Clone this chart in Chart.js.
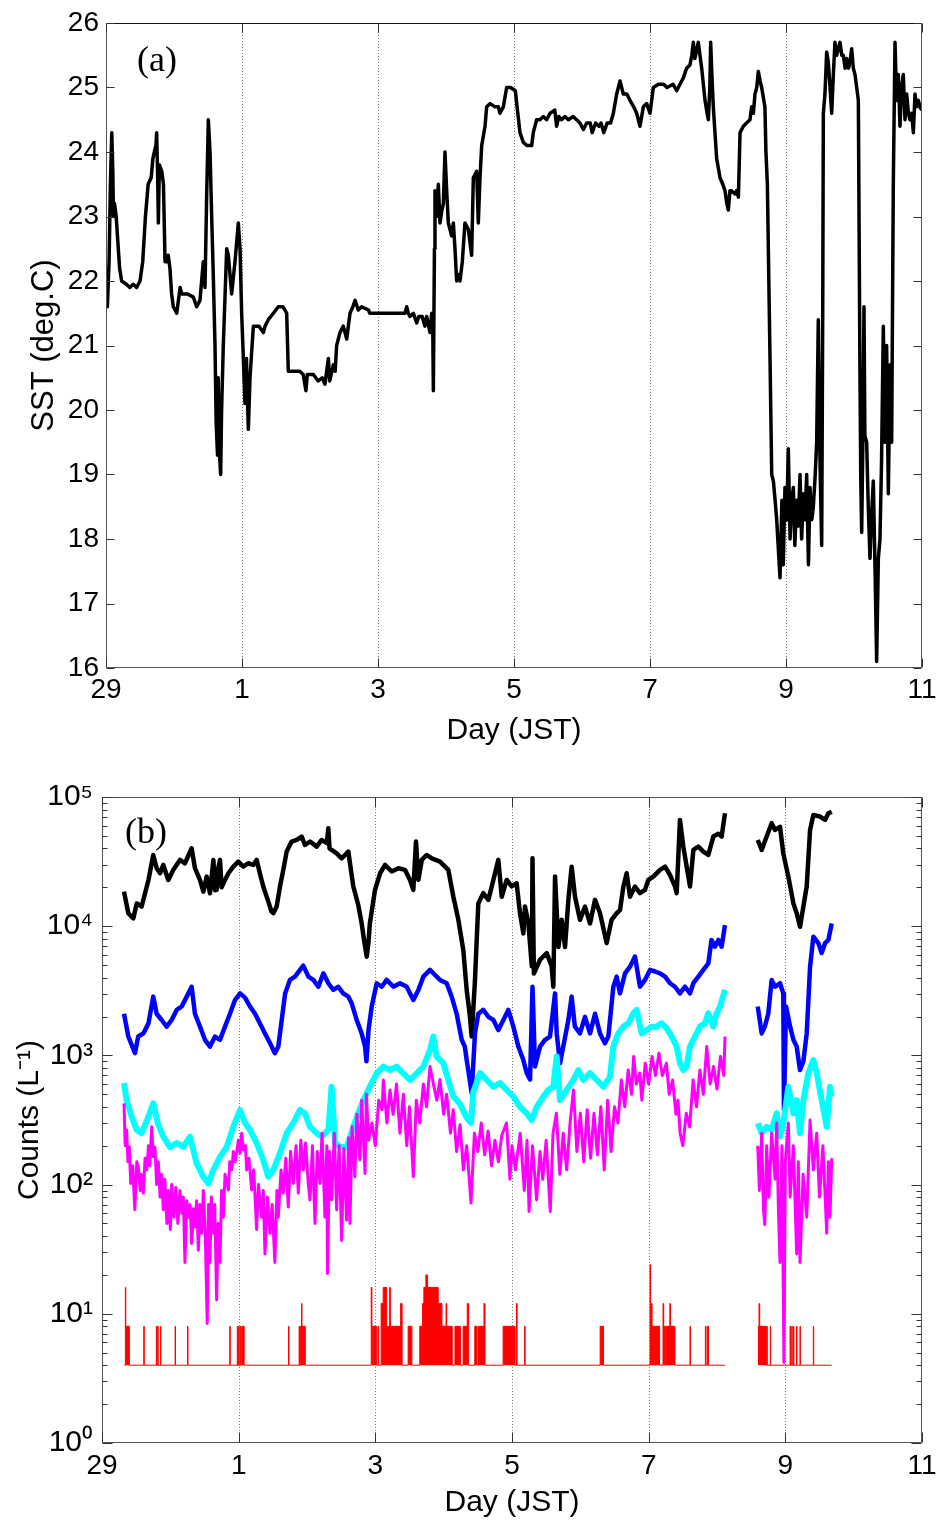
<!DOCTYPE html>
<html><head><meta charset="utf-8">
<script src="https://cdn.jsdelivr.net/npm/chart.js@4.4.0/dist/chart.umd.min.js"></script>
<style>
html,body{margin:0;padding:0;background:#fff;}
#wrap{position:relative;width:938px;height:1521px;overflow:hidden;}
#c1{position:absolute;left:0;top:0;}
#c2{position:absolute;left:0;top:760px;}
</style></head><body>
<div id="wrap">
<canvas id="c1" width="938" height="760"></canvas>
<canvas id="c2" width="938" height="761"></canvas>
</div>
<script>
// ---------- axis ticks ----------
const dayTickValues = [0, 2, 4, 6, 8, 10, 12];
const dayTickLabels = ['29', '1', '3', '5', '7', '9', '11'];
const sstTickValues = [16, 17, 18, 19, 20, 21, 22, 23, 24, 25, 26];
const sstTickLabels = ['16', '17', '18', '19', '20', '21', '22', '23', '24', '25', '26'];
const countTickValues = [1, 10, 100, 1000, 10000, 100000];
const countTickLabels = ['10\u2070', '10\u00B9', '10\u00B2', '10\u00B3', '10\u2074', '10\u2075'];

// ---------- (a) SST, deg.C  [day since 29th 00:00, value] ----------
const sst = [
[0.000,21.9],[0.020,21.6],[0.045,22.3],[0.065,23.5],[0.085,24.3],[0.100,23.7],[0.110,23.0],[0.125,23.2],
[0.150,23.0],[0.175,22.6],[0.200,22.2],[0.230,22.0],[0.300,21.95],[0.350,21.9],[0.400,21.95],[0.450,21.9],
[0.500,22.0],[0.540,22.3],[0.580,23.0],[0.620,23.5],[0.664,23.6],[0.690,23.9],[0.711,24.0],[0.735,24.1],
[0.745,24.3],[0.760,23.6],[0.770,22.9],[0.785,23.8],[0.820,23.7],[0.845,23.5],[0.868,22.3],[0.892,22.3],
[0.915,22.4],[0.940,22.2],[0.965,21.8],[0.990,21.6],[1.040,21.5],[1.090,21.9],[1.113,21.8],[1.200,21.8],
[1.284,21.75],[1.333,21.6],[1.382,21.7],[1.431,22.3],[1.456,21.9],[1.480,23.3],[1.505,24.5],[1.530,24.0],
[1.554,23.0],[1.580,22.0],[1.603,21.0],[1.620,19.8],[1.640,19.3],[1.650,20.5],[1.665,19.4],[1.686,19.0],
[1.700,20.0],[1.725,21.0],[1.775,22.5],[1.799,22.4],[1.848,21.8],[1.897,22.3],[1.946,22.9],[1.971,22.5],
[1.995,21.5],[2.020,20.8],[2.044,20.1],[2.065,20.8],[2.093,19.7],[2.118,20.5],[2.167,21.3],[2.250,21.3],
[2.314,21.2],[2.340,21.3],[2.387,21.4],[2.461,21.5],[2.534,21.6],[2.600,21.6],[2.632,21.55],[2.657,21.5],
[2.681,20.6],[2.750,20.6],[2.850,20.6],[2.900,20.55],[2.940,20.3],[2.960,20.55],[3.050,20.55],[3.120,20.45],
[3.180,20.5],[3.220,20.4],[3.270,20.8],[3.290,20.45],[3.343,20.7],[3.370,20.6],[3.392,21.0],[3.440,21.2],
[3.490,21.3],[3.540,21.1],[3.588,21.5],[3.630,21.6],[3.663,21.7],[3.710,21.55],[3.760,21.6],[3.860,21.55],
[3.880,21.5],[4.100,21.5],[4.397,21.5],[4.422,21.6],[4.445,21.5],[4.470,21.45],[4.520,21.5],[4.569,21.35],
[4.600,21.45],[4.650,21.45],[4.690,21.3],[4.716,21.45],[4.765,21.2],[4.790,21.5],[4.805,21.3],[4.814,20.3],
[4.830,22.5],[4.838,23.4],[4.863,23.0],[4.887,23.5],[4.912,22.9],[4.940,23.1],[4.961,23.2],[4.985,24.0],
[5.010,23.4],[5.034,22.9],[5.083,22.7],[5.108,22.9],[5.132,22.5],[5.157,22.0],[5.190,22.1],[5.206,22.0],
[5.240,22.3],[5.279,22.9],[5.328,22.8],[5.377,22.4],[5.402,23.6],[5.451,23.7],[5.475,22.9],[5.500,23.6],
[5.525,24.1],[5.574,24.4],[5.598,24.7],[5.650,24.75],[5.720,24.7],[5.770,24.7],[5.794,24.6],[5.843,24.7],
[5.892,25.0],[5.950,25.0],[6.020,24.95],[6.040,24.75],[6.088,24.3],[6.137,24.15],[6.190,24.1],[6.260,24.1],
[6.284,24.3],[6.333,24.5],[6.380,24.5],[6.431,24.55],[6.480,24.5],[6.530,24.6],[6.600,24.65],[6.627,24.4],
[6.660,24.55],[6.700,24.5],[6.750,24.55],[6.800,24.5],[6.870,24.55],[6.920,24.5],[6.970,24.45],[7.020,24.35],
[7.070,24.45],[7.120,24.45],[7.150,24.3],[7.200,24.45],[7.250,24.4],[7.280,24.45],[7.320,24.3],[7.370,24.45],
[7.420,24.45],[7.461,24.6],[7.510,24.9],[7.559,25.1],[7.608,24.9],[7.660,24.9],[7.706,24.8],[7.760,24.7],
[7.804,24.6],[7.853,24.4],[7.902,24.7],[7.951,24.75],[8.000,24.6],[8.049,25.0],[8.123,25.05],[8.200,25.05],
[8.250,25.0],[8.340,25.05],[8.392,24.95],[8.441,25.05],[8.490,25.15],[8.539,25.3],[8.588,25.35],[8.615,25.5],
[8.637,25.7],[8.660,25.45],[8.690,25.6],[8.710,25.7],[8.735,25.5],[8.760,25.3],[8.809,24.8],[8.840,24.6],
[8.858,24.5],[8.880,25.0],[8.892,25.7],[8.910,25.2],[8.931,24.7],[8.980,23.9],[9.030,23.6],[9.070,23.5],
[9.103,23.4],[9.130,23.2],[9.152,23.1],[9.175,23.4],[9.200,23.4],[9.250,23.35],[9.275,23.4],[9.300,23.3],
[9.324,24.3],[9.373,24.4],[9.420,24.45],[9.470,24.5],[9.495,24.7],[9.520,24.6],[9.544,24.9],[9.570,25.0],
[9.593,25.25],[9.620,25.1],[9.642,25.0],[9.690,24.7],[9.705,24.0],[9.726,23.5],[9.765,20.8],[9.790,19.0],
[9.814,18.9],[9.840,18.6],[9.863,18.3],[9.890,17.8],[9.912,17.4],[9.940,18.6],[9.960,17.6],[9.985,18.8],
[10.010,18.3],[10.034,19.4],[10.060,18.0],[10.085,18.6],[10.108,18.8],[10.130,17.9],[10.157,18.6],[10.180,18.2],
[10.206,19.0],[10.230,18.0],[10.255,18.7],[10.280,18.3],[10.304,19.0],[10.330,17.6],[10.353,18.8],[10.380,18.3],
[10.402,18.5],[10.430,19.0],[10.451,19.5],[10.475,21.4],[10.500,19.2],[10.525,17.9],[10.540,21.5],[10.549,24.6],
[10.573,24.9],[10.598,25.55],[10.622,25.4],[10.647,25.0],[10.672,24.6],[10.696,25.2],[10.720,25.7],[10.745,25.5],
[10.770,25.6],[10.794,25.7],[10.820,25.5],[10.843,25.5],[10.870,25.3],[10.892,25.45],[10.920,25.3],[10.941,25.4],
[10.966,25.6],[10.990,25.3],[11.015,25.2],[11.040,25.0],[11.064,24.8],[11.088,20.5],[11.100,18.9],[11.113,18.1],
[11.130,19.5],[11.147,21.6],[11.160,19.6],[11.186,19.5],[11.210,18.5],[11.235,17.7],[11.260,18.4],[11.284,18.9],
[11.310,17.5],[11.333,16.1],[11.358,17.7],[11.382,18.0],[11.405,19.2],[11.431,21.3],[11.455,19.5],[11.480,21.0],
[11.505,18.7],[11.530,20.7],[11.554,19.5],[11.578,23.5],[11.603,25.7],[11.627,24.8],[11.652,25.2],[11.676,24.4],
[11.700,25.0],[11.725,25.2],[11.750,24.5],[11.775,24.9],[11.800,24.6],[11.824,24.5],[11.848,24.6],[11.873,24.3],
[11.897,24.9],[11.920,24.7],[11.946,24.8],[11.970,24.7],[11.995,24.65]
];

// ---------- (b) counts, L^-1  [day, value]; null = no data ----------
const countsBlack = [
[0.322,18500],[0.385,12600],[0.459,11500],[0.508,15000],[0.580,14200],[0.630,18000],[0.680,22800],[0.750,35600],
[0.800,28100],[0.850,25700],[0.897,29800],[0.970,22800],[1.044,27300],[1.141,32600],[1.214,30700],[1.312,40100],
[1.360,28100],[1.434,22800],[1.483,18500],[1.532,24200],[1.580,18000],[1.630,32600],[1.654,19000],[1.678,19100],
[1.700,28000],[1.727,32600],[1.750,20000],[1.776,21500],[1.850,25700],[1.922,28900],[1.995,31600],[2.068,28900],
[2.140,30700],[2.215,29800],[2.263,32600],[2.310,25700],[2.360,20300],[2.434,15500],[2.480,13000],[2.507,12600],
[2.556,14200],[2.605,20300],[2.653,27300],[2.702,37800],[2.775,45200],[2.850,46500],[2.922,49400],[2.970,42500],
[3.044,45200],[3.142,41300],[3.215,46500],[3.290,44000],[3.312,57300],[3.330,40000],[3.360,38900],[3.434,36600],
[3.507,33500],[3.605,37800],[3.629,30700],[3.678,20300],[3.750,14600],[3.800,10500],[3.835,7800],[3.874,5800],
[3.900,7500],[3.920,10500],[3.995,19100],[4.070,25700],[4.142,29800],[4.240,26500],[4.337,28100],[4.434,27300],
[4.507,22800],[4.556,19100],[4.595,45200],[4.630,22800],[4.680,32600],[4.750,35600],[4.825,33500],[4.946,31600],
[5.068,27300],[5.142,16900],[5.215,11200],[5.288,6500],[5.337,3200],[5.380,2100],[5.410,1400],[5.458,3800],
[5.507,15000],[5.580,18000],[5.654,16000],[5.727,22800],[5.800,32600],[5.850,16900],[5.922,22800],[5.995,20300],
[6.068,21500],[6.117,12600],[6.166,8800],[6.190,14200],[6.240,10500],[6.290,4900],[6.300,33500],[6.320,4300],
[6.410,5500],[6.508,6200],[6.580,4900],[6.605,3400],[6.630,24200],[6.680,6900],[6.727,11200],[6.776,6900],
[6.825,16000],[6.873,28900],[6.922,16900],[6.995,11200],[7.068,14200],[7.142,10500],[7.215,16000],[7.288,12600],
[7.385,7400],[7.458,11200],[7.532,12600],[7.580,13300],[7.630,20300],[7.678,25700],[7.727,16900],[7.800,20300],
[7.873,18000],[7.946,19100],[7.995,22800],[8.068,24200],[8.166,27300],[8.240,28900],[8.312,24900],[8.385,20300],
[8.410,18000],[8.458,66500],[8.507,41300],[8.556,28900],[8.605,20300],[8.654,38900],[8.727,41300],[8.800,37800],
[8.873,35600],[8.946,49400],[9.020,51900],[9.068,49400],[9.117,74800],[9.350,null],
[9.596,46500],[9.654,38900],[9.727,49400],[9.800,62700],[9.850,55600],[9.922,58800],[9.970,36600],[10.044,24200],
[10.118,15000],[10.166,12600],[10.215,9900],[10.264,14200],[10.313,20300],[10.362,55600],[10.410,72600],[10.508,70600],
[10.582,66500],[10.630,74800],[10.679,77000]
];
const countsBlue = [
[0.322,2100],[0.385,1400],[0.483,1040],[0.530,1400],[0.605,1480],[0.680,1770],[0.750,2850],[0.800,2100],
[0.873,1880],[0.946,1670],[1.020,1880],[1.093,2250],[1.166,2390],[1.240,2850],[1.312,3400],[1.360,2100],
[1.434,1670],[1.507,1320],[1.580,1170],[1.654,1400],[1.727,1320],[1.800,1670],[1.873,2100],[1.946,2680],
[2.020,3020],[2.093,2800],[2.166,2390],[2.240,2100],[2.310,1770],[2.385,1480],[2.460,1240],[2.530,1040],
[2.580,1170],[2.630,1880],[2.680,3020],[2.750,3840],[2.824,4070],[2.898,4590],[2.946,4950],[3.020,4070],
[3.093,3840],[3.166,3400],[3.240,4320],[3.312,3620],[3.385,3210],[3.458,3400],[3.530,3020],[3.605,2850],
[3.654,2530],[3.727,1880],[3.800,1480],[3.850,1170],[3.870,900],[3.900,1570],[3.947,2390],[4.020,3620],
[4.093,3400],[4.166,3840],[4.264,3400],[4.361,3620],[4.459,3400],[4.556,2680],[4.630,3210],[4.703,4070],
[4.800,4590],[4.849,4320],[4.946,3840],[5.044,3620],[5.117,2850],[5.190,2100],[5.264,1320],[5.310,1170],
[5.337,920],[5.360,770],[5.410,510],[5.458,1480],[5.507,2100],[5.580,2250],[5.654,1990],[5.727,1880],
[5.800,1570],[5.874,1880],[5.946,2250],[6.020,1670],[6.093,1170],[6.166,920],[6.215,730],[6.264,650],
[6.300,3400],[6.337,820],[6.410,1170],[6.483,1320],[6.556,1400],[6.630,3020],[6.654,1480],[6.703,870],
[6.750,1170],[6.825,1880],[6.873,2850],[6.920,1670],[6.995,1480],[7.068,1990],[7.142,1480],[7.215,2100],
[7.288,1480],[7.360,1240],[7.410,1400],[7.483,3400],[7.532,4070],[7.580,3020],[7.654,4320],[7.727,4860],
[7.800,5820],[7.873,3400],[7.946,3840],[8.020,4590],[8.093,4460],[8.166,4320],[8.240,4070],[8.312,3620],
[8.385,3400],[8.458,3020],[8.532,3400],[8.605,3020],[8.654,3620],[8.727,4070],[8.800,4590],[8.873,5150],
[8.920,7830],[8.970,6940],[9.020,7830],[9.068,6940],[9.117,10200],[9.350,null],
[9.596,2390],[9.654,1480],[9.700,1670],[9.750,2100],[9.800,3840],[9.850,3400],[9.922,3620],[9.970,3020],
[9.980,380],[10.010,2390],[10.070,1670],[10.118,1320],[10.166,1170],[10.215,770],[10.264,900],[10.313,1480],
[10.362,4860],[10.410,8300],[10.483,7400],[10.532,6200],[10.582,7400],[10.630,7830],[10.679,10500]
];
const countsCyan = [
[0.322,610],[0.360,450],[0.434,336],[0.508,265],[0.580,250],[0.680,336],[0.750,425],[0.820,295],
[0.897,235],[0.995,195],[1.093,210],[1.190,196],[1.288,235],[1.385,146],[1.483,115],[1.556,102],
[1.630,130],[1.727,164],[1.824,195],[1.922,280],[2.020,378],[2.093,300],[2.166,265],[2.263,210],
[2.360,155],[2.434,115],[2.507,130],[2.605,175],[2.702,250],[2.800,300],[2.898,378],[2.970,356],
[3.044,280],[3.142,250],[3.215,235],[3.312,265],[3.360,573],[3.410,210],[3.483,196],[3.580,195],
[3.678,280],[3.750,356],[3.825,450],[3.920,573],[4.020,726],[4.117,818],[4.215,771],[4.312,818],
[4.410,726],[4.507,645],[4.605,726],[4.703,818],[4.800,1100],[4.849,1400],[4.897,980],[4.995,870],
[5.068,645],[5.142,480],[5.240,420],[5.337,330],[5.400,300],[5.434,520],[5.532,730],[5.630,645],
[5.727,573],[5.825,610],[5.922,540],[6.020,480],[6.117,400],[6.215,356],[6.288,316],[6.361,400],
[6.459,480],[6.532,540],[6.605,573],[6.654,980],[6.703,450],[6.800,540],[6.898,645],[6.971,770],
[7.044,645],[7.142,730],[7.240,645],[7.337,573],[7.434,685],[7.483,1170],[7.556,1480],[7.630,1670],
[7.703,1770],[7.776,2120],[7.825,2250],[7.897,1480],[7.971,1570],[8.044,1670],[8.117,1670],[8.190,1770],
[8.264,1620],[8.337,1400],[8.410,1170],[8.458,870],[8.507,770],[8.556,820],[8.605,1170],[8.678,1400],
[8.751,1670],[8.825,1770],[8.873,2120],[8.946,1670],[8.995,2120],[9.044,2390],[9.117,3210],[9.350,null],
[9.596,298],[9.654,250],[9.727,280],[9.800,265],[9.874,356],[9.922,235],[9.971,298],[10.044,573],
[10.118,356],[10.166,450],[10.215,250],[10.264,450],[10.337,730],[10.410,920],[10.459,730],[10.532,450],
[10.606,280],[10.654,573],[10.679,480]
];
const countsMagenta = [
[0.322,425],[0.340,200],[0.360,265],[0.380,150],[0.400,196],[0.420,102],[0.450,140],[0.480,64],
[0.510,150],[0.530,138],[0.560,90],[0.580,120],[0.605,86],[0.630,160],[0.654,130],[0.680,200],
[0.700,140],[0.727,280],[0.750,164],[0.775,195],[0.800,100],[0.824,150],[0.850,80],[0.873,120],
[0.897,64],[0.920,110],[0.950,50],[0.970,90],[1.000,45],[1.020,100],[1.050,56],[1.080,95],
[1.110,50],[1.141,90],[1.170,60],[1.190,80],[1.214,25],[1.240,75],[1.263,56],[1.290,70],
[1.312,35],[1.340,65],[1.360,47],[1.385,75],[1.410,31],[1.434,70],[1.460,42],[1.483,90],
[1.510,45],[1.540,8.4],[1.560,70],[1.580,25],[1.600,80],[1.630,42],[1.650,70],[1.678,12.8],
[1.700,50],[1.727,25],[1.750,90],[1.776,56],[1.800,120],[1.850,91],[1.870,150],[1.900,130],
[1.922,180],[1.950,150],[1.995,220],[2.020,175],[2.044,250],[2.070,185],[2.100,200],[2.117,130],
[2.150,160],[2.190,91],[2.220,130],[2.263,45],[2.290,100],[2.336,56],[2.360,90],[2.385,29],
[2.420,80],[2.458,42],[2.490,70],[2.530,25],[2.560,90],[2.580,56],[2.620,130],[2.653,86],
[2.690,160],[2.726,67],[2.760,180],[2.800,102],[2.840,200],[2.873,86],[2.910,220],[2.946,130],
[2.980,210],[3.020,100],[3.044,76],[3.080,200],[3.117,50],[3.150,180],[3.190,102],[3.220,250],
[3.263,56],[3.290,200],[3.300,20.5],[3.330,180],[3.360,76],[3.400,250],[3.434,64],[3.470,200],
[3.507,37],[3.540,190],[3.580,53],[3.610,230],[3.629,50],[3.660,280],[3.700,115],[3.730,350],
[3.775,155],[3.800,450],[3.850,122],[3.870,500],[3.900,220],[3.950,300],[4.000,200],[4.050,450],
[4.100,380],[4.117,645],[4.170,300],[4.215,540],[4.260,350],[4.310,600],[4.360,250],[4.410,500],
[4.460,200],[4.500,400],[4.556,115],[4.600,450],[4.650,300],[4.703,600],[4.750,400],[4.800,820],
[4.850,600],[4.900,450],[4.946,650],[5.000,350],[5.044,500],[5.100,250],[5.140,380],[5.190,180],
[5.240,290],[5.288,130],[5.337,200],[5.360,140],[5.400,72],[5.450,250],[5.500,180],[5.550,300],
[5.600,170],[5.650,260],[5.700,140],[5.750,220],[5.800,150],[5.850,240],[5.920,300],[5.970,110],
[6.000,200],[6.050,130],[6.120,250],[6.180,90],[6.220,220],[6.250,62],[6.300,200],[6.360,76],
[6.410,180],[6.450,110],[6.500,220],[6.560,62],[6.600,250],[6.650,356],[6.700,120],[6.750,250],
[6.800,130],[6.850,300],[6.900,540],[6.950,180],[7.000,356],[7.050,150],[7.100,380],[7.150,160],
[7.200,356],[7.250,170],[7.300,400],[7.350,130],[7.400,450],[7.450,180],[7.500,400],[7.550,300],
[7.600,645],[7.650,400],[7.700,770],[7.750,500],[7.780,980],[7.820,600],[7.870,730],[7.900,450],
[7.950,870],[8.000,600],[8.050,980],[8.100,700],[8.150,1040],[8.200,700],[8.260,870],[8.300,500],
[8.350,645],[8.400,350],[8.430,450],[8.460,250],[8.500,200],[8.550,356],[8.600,280],[8.650,645],
[8.700,400],[8.750,770],[8.800,500],[8.850,1170],[8.900,600],[8.950,820],[9.000,550],[9.050,980],
[9.100,700],[9.117,1400],[9.350,null],
[9.596,200],[9.620,90],[9.654,250],[9.680,64],[9.700,49],[9.727,200],[9.760,80],[9.800,250],
[9.850,110],[9.874,300],[9.900,60],[9.922,25],[9.950,200],[9.980,4.2],[10.000,150],[10.044,300],
[10.070,80],[10.118,200],[10.166,29],[10.190,150],[10.215,25],[10.260,120],[10.313,56],[10.362,316],
[10.410,130],[10.459,250],[10.500,80],[10.550,200],[10.606,42],[10.630,150],[10.654,56],[10.679,160]
];
// red: step series [day, count held until next entry]
const countsRed = [
[0.325,4],[0.342,16],[0.348,8],[0.400,4],[0.612,8],[0.618,4],[0.795,8],[0.800,4],[0.815,8],[0.822,4],
[0.855,8],[0.861,4],[1.070,8],[1.076,4],[1.252,8],[1.258,4],[1.870,8],[1.876,4],[1.980,8],[1.986,4],
[2.000,8],[2.006,4],[2.020,8],[2.028,4],[2.045,8],[2.080,4],[2.730,8],[2.736,4],[2.885,8],[2.890,4],
[2.900,8],[2.910,4],[2.920,12],[2.926,8],[2.975,4],
[3.940,16],[3.950,8],[3.962,4],[3.968,8],[4.020,4],[4.040,8],[4.048,4],[4.085,12],[4.115,16],[4.165,8],
[4.210,16],[4.220,8],[4.370,12],[4.392,4],[4.480,8],[4.535,4],[4.650,8],[4.690,12],[4.710,16],[4.740,20],
[4.765,16],[4.920,12],[4.975,8],[5.035,12],[5.045,8],[5.125,4],[5.165,8],[5.245,4],[5.285,8],[5.345,12],
[5.365,4],[5.455,8],[5.490,4],[5.510,8],[5.590,12],[5.605,4],[5.870,8],[6.045,4],[6.065,12],[6.075,4],
[6.185,8],[6.192,4],[7.290,8],[7.340,4],
[8.020,24],[8.028,12],[8.050,8],[8.090,4],[8.100,8],[8.160,4],[8.210,12],[8.220,8],[8.240,4],[8.250,8],
[8.310,12],[8.318,8],[8.385,4],[8.605,8],[8.610,4],[8.830,8],[8.835,4],[8.855,8],[8.875,4],[9.117,4],
[9.350,null],
[9.596,8],[9.615,12],[9.625,8],[9.720,4],[9.730,8],[9.735,4],[9.780,8],[9.785,4],[10.070,8],[10.075,4],
[10.095,8],[10.100,4],[10.120,8],[10.125,4],[10.165,8],[10.170,4],[10.215,8],[10.220,4],[10.410,8],[10.415,4],
[10.679,4]
];

// ---------- rendering ----------
const SANS = "'Liberation Sans', Arial, sans-serif";
const SERIF = "'Liberation Serif', 'Times New Roman', serif";
const pts = arr => arr.map(p => ({x: p[0], y: p[1]}));

const framePlugin = {
  id: 'frame',
  beforeDatasetsDraw(chart, args, o) {
    const {ctx, chartArea: a, scales: {x}} = chart;
    ctx.save();
    ctx.strokeStyle = '#7a7a7a'; ctx.lineWidth = 1; ctx.setLineDash([1, 2]);
    x.ticks.forEach((t, i) => {
      if (i === 0 || i === x.ticks.length - 1) return;
      const px = Math.round(x.getPixelForValue(t.value)) + 0.5;
      ctx.beginPath(); ctx.moveTo(px, a.top); ctx.lineTo(px, a.bottom); ctx.stroke();
    });
    ctx.restore();
  },
  afterDraw(chart, args, o) {
    const {ctx, chartArea: a, scales: {x, y}} = chart;
    ctx.save();
    ctx.lineWidth = 1;
    ctx.strokeStyle = '#555';
    const L = Math.round(a.left) + 0.5, R = Math.round(a.right) - 0.5;
    const T = Math.round(a.top) + 0.5, B = Math.round(a.bottom) - 0.5;
    ctx.beginPath();
    ctx.moveTo(L, T); ctx.lineTo(L, B); ctx.lineTo(R, B); ctx.lineTo(R, T); ctx.stroke();
    ctx.strokeStyle = o.topColor || '#555';
    ctx.beginPath(); ctx.moveTo(L, T); ctx.lineTo(R, T); ctx.stroke();
    ctx.strokeStyle = '#333';
    x.ticks.forEach(t => {
      const px = Math.round(x.getPixelForValue(t.value)) + 0.5;
      ctx.beginPath();
      ctx.moveTo(px, B); ctx.lineTo(px, B - o.xTick);
      ctx.moveTo(px, T); ctx.lineTo(px, T + o.xTick);
      ctx.stroke();
    });
    y.ticks.forEach(t => {
      const py = Math.round(y.getPixelForValue(t.value)) + 0.5;
      ctx.beginPath();
      ctx.moveTo(L, py); ctx.lineTo(L + o.yTick, py);
      ctx.moveTo(R, py); ctx.lineTo(R - o.yTick, py);
      ctx.stroke();
    });
    if (o.minor) {
      for (let k = 0; k < 5; k++) {
        for (let m = 2; m <= 9; m++) {
          const py = Math.round(y.getPixelForValue(m * Math.pow(10, k))) + 0.5;
          ctx.beginPath();
          ctx.moveTo(L, py); ctx.lineTo(L + o.minor, py);
          ctx.moveTo(R, py); ctx.lineTo(R - o.minor, py);
          ctx.stroke();
        }
      }
    }
    ctx.fillStyle = '#000';
    ctx.font = '36px ' + SERIF;
    ctx.textBaseline = 'alphabetic';
    ctx.textAlign = 'left';
    ctx.fillText(o.label, a.left + o.dx, a.top + o.dy);
    ctx.restore();
  }
};

function xScale(height, tickPad, titlePadBottom) {
  return {
    type: 'linear', min: dayTickValues[0], max: dayTickValues[dayTickValues.length - 1],
    afterBuildTicks: s => { s.ticks = dayTickValues.map(v => ({value: v})); },
    ticks: {
      callback: (v, i) => dayTickLabels[i], autoSkip: false, maxRotation: 0,
      font: {family: SANS, size: 28}, color: '#000', padding: tickPad
    },
    grid: {display: false, drawTicks: false},
    border: {display: false},
    title: {display: true, text: 'Day (JST)', color: '#000',
      font: {family: SANS, size: 30}, padding: {top: 0, bottom: titlePadBottom}},
    afterFit: s => { s.height = height; s.paddingLeft = 0; s.paddingRight = 0; }
  };
}

const common = {
  responsive: false, animation: false, events: [],
  plugins: {legend: {display: false}, tooltip: {enabled: false}},
  elements: {point: {radius: 0}, line: {tension: 0, borderJoinStyle: 'round'}}
};

new Chart(document.getElementById('c1'), {
  type: 'line',
  data: {datasets: [{
    data: pts(sst), borderColor: '#000', borderWidth: 3.5, fill: false, spanGaps: false
  }]},
  options: Object.assign({}, common, {
    layout: {padding: {left: 0, right: 16, top: 23, bottom: 0}},
    plugins: Object.assign({}, common.plugins, {
      frame: {label: '(a)', dx: 31, dy: 48, xTick: 9, yTick: 8, minor: 0, topColor: '#111'}
    }),
    scales: {
      x: xScale(92, 5, 11),
      y: {
        type: 'linear', min: sstTickValues[0], max: sstTickValues[sstTickValues.length - 1],
        afterBuildTicks: s => { s.ticks = sstTickValues.map(v => ({value: v})); },
        ticks: {callback: (v, i) => sstTickLabels[i], font: {family: SANS, size: 28},
          color: '#000', padding: 7},
        grid: {display: false, drawTicks: false},
        border: {display: false},
        title: {display: true, text: 'SST (deg.C)', color: '#000',
          font: {family: SANS, size: 31}, padding: {top: 26, bottom: 0}},
        afterFit: s => { s.width = 106; s.paddingTop = 0; s.paddingBottom = 0; }
      }
    }
  }),
  plugins: [framePlugin]
});

new Chart(document.getElementById('c2'), {
  type: 'line',
  data: {datasets: [
    {data: pts(countsMagenta), borderColor: '#ff00ff', borderWidth: 3, fill: false},
    {data: pts(countsCyan), borderColor: '#00ffff', borderWidth: 6, fill: false},
    {data: pts(countsBlue), borderColor: '#0000ff', borderWidth: 4.5, fill: false},
    {data: pts(countsBlack), borderColor: '#000000', borderWidth: 4.5, fill: false},
    {data: pts(countsRed), borderColor: '#ff0000', backgroundColor: '#ff0000',
      borderWidth: 1, stepped: true, fill: {value: 4}}
  ]},
  options: Object.assign({}, common, {
    layout: {padding: {left: 0, right: 16, top: 37, bottom: 0}},
    plugins: Object.assign({}, common.plugins, {
      frame: {label: '(b)', dx: 23, dy: 46, xTick: 10, yTick: 10, minor: 5, topColor: '#555'}
    }),
    scales: {
      x: xScale(78, 6, 0),
      y: {
        type: 'logarithmic', min: countTickValues[0], max: countTickValues[countTickValues.length - 1],
        afterBuildTicks: s => { s.ticks = countTickValues.map(v => ({value: v})); },
        ticks: {callback: (v, i) => countTickLabels[i], font: {family: SANS, size: 30},
          color: '#000', padding: 9},
        grid: {display: false, drawTicks: false},
        border: {display: false},
        title: {display: true, text: 'Counts (L\u207B\u00B9)', color: '#000',
          font: {family: SANS, size: 30}, padding: {top: 12, bottom: 0}},
        afterFit: s => { s.width = 102; s.paddingTop = 0; s.paddingBottom = 0; }
      }
    }
  }),
  plugins: [framePlugin]
});
</script>
</body></html>
